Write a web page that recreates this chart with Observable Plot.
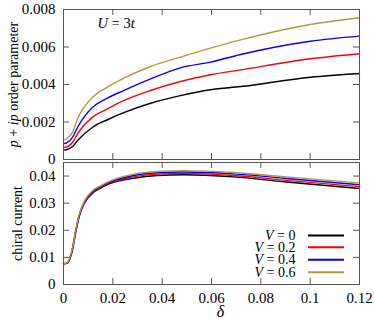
<!DOCTYPE html>
<html><head><meta charset="utf-8">
<script src="https://cdn.jsdelivr.net/npm/d3@7"></script>
<script src="https://cdn.jsdelivr.net/npm/@observablehq/plot@0.6"></script>
<style>
body{margin:0;background:#fff;}
#chart svg{display:block;}
#chart svg, #chart svg text, #chart svg tspan{font-family:"Liberation Serif","Times New Roman",Times,"DejaVu Serif",serif !important;}
</style>
</head><body><div id="chart"></div>
<script>
// ---------- data ----------
const seriesNames = ["V = 0", "V = 0.2", "V = 0.4", "V = 0.6"];
const seriesColors = ["#000000", "#ff0000", "#0000ff", "#b8963e"];

// top panel: p+ip order parameter vs delta
const deltaTop = [0.0004, 0.0012, 0.0037, 0.0057, 0.0118, 0.0178, 0.0239, 0.0353, 0.0474, 0.0596, 0.0718, 0.1001, 0.12];
const pip_V0  = [0.00050, 0.00052, 0.00069, 0.00101, 0.00172, 0.00212, 0.00247, 0.00300, 0.00341, 0.00372, 0.00389, 0.00439, 0.00459];
const pip_V02 = [0.00066, 0.00067, 0.00092, 0.00137, 0.00226, 0.00270, 0.00311, 0.00368, 0.00416, 0.00452, 0.00478, 0.00537, 0.00564];
const pip_V04 = [0.00085, 0.00088, 0.00119, 0.00172, 0.00279, 0.00327, 0.00365, 0.00430, 0.00489, 0.00519, 0.00560, 0.00631, 0.00658];
const pip_V06 = [0.00105, 0.00110, 0.00146, 0.00217, 0.00332, 0.00386, 0.00430, 0.00496, 0.00546, 0.00594, 0.00638, 0.00720, 0.00756];

// bottom panel: chiral current vs delta
const deltaBot = [0, 0.0015, 0.0035, 0.0049, 0.0062, 0.0082, 0.0123, 0.015, 0.0177, 0.0285, 0.038, 0.0488, 0.069, 0.0893, 0.12];
const cc_V0  = [0.0076, 0.0078, 0.0122, 0.0190, 0.0245, 0.0295, 0.0340, 0.0355, 0.0368, 0.0392, 0.0402, 0.0405, 0.0397, 0.0379, 0.0354];
const cc_V02 = [0.0076, 0.0079, 0.0125, 0.0193, 0.0248, 0.0297, 0.0343, 0.0358, 0.0371, 0.0397, 0.0407, 0.0410, 0.0402, 0.0385, 0.0361];
const cc_V04 = [0.0077, 0.0080, 0.0127, 0.0195, 0.0250, 0.0300, 0.0347, 0.0361, 0.0374, 0.0402, 0.0412, 0.0415, 0.0408, 0.0392, 0.0368];
const cc_V06 = [0.0077, 0.0081, 0.0130, 0.0198, 0.0253, 0.0302, 0.0350, 0.0364, 0.0377, 0.0407, 0.0417, 0.0420, 0.0413, 0.0398, 0.0375];

const xTicks = [0, 0.02, 0.04, 0.06, 0.08, 0.1, 0.12];
const yTicksTop = [0, 0.002, 0.004, 0.006, 0.008];
const yTicksBot = [0, 0.01, 0.02, 0.03, 0.04];

const topLabel = "p + ip order parameter";
const botLabel = "chiral current";
const xLabel = "δ";
const annotation = "U = 3t";

// ---------- layout ----------
const W = 374, ML = 63, MR = 15;
const frameColor = "#555";
const font = "Liberation Serif, Times New Roman, Times, DejaVu Serif, serif";

function tidy(xs, cols) {
  const rows = [];
  cols.forEach((vals, k) => vals.forEach((v, i) => rows.push({x: xs[i], y: v, s: seriesNames[k]})));
  return rows;
}

function panel({height, marginTop, marginBottom, yDomain, yTicks, data, showX, extra}) {
  const H = height - marginTop - marginBottom;
  const IW = W - ML - MR;
  return Plot.plot({
    width: W, height, marginTop, marginBottom, marginLeft: ML, marginRight: MR,
    style: {"background": "transparent", "overflow": "visible"},
    x: {domain: [0, 0.12], axis: null},
    y: {domain: yDomain, axis: null},
    color: {domain: seriesNames, range: seriesColors},
    marks: [
      Plot.line(data, {x: "x", y: "y", z: "s", stroke: "s", strokeWidth: 1.4, curve: "monotone-x"}),
      Plot.frame({stroke: frameColor, strokeWidth: 1}),
      Plot.tickX(xTicks, {x: d => d, insetTop: H - 6, stroke: frameColor}),
      Plot.tickX(xTicks, {x: d => d, insetBottom: H - 6, stroke: frameColor}),
      Plot.tickY(yTicks, {y: d => d, insetRight: IW - 6, stroke: frameColor}),
      Plot.tickY(yTicks, {y: d => d, insetLeft: IW - 6, stroke: frameColor}),
      Plot.axisY({ticks: yTicks, tickSize: 0, tickPadding: 8, tickFormat: d => String(d), label: null, fontSize: 15, fontFamily: font}),
      showX ? Plot.axisX({ticks: xTicks, tickSize: 0, tickPadding: 8, tickFormat: d => String(d), label: null, fontSize: 15, fontFamily: font}) : null,
      ...extra
    ]
  });
}

const topSvg = panel({
  height: 160, marginTop: 9, marginBottom: 1,
  yDomain: [0, 0.008], yTicks: yTicksTop,
  data: tidy(deltaTop, [pip_V0, pip_V02, pip_V04, pip_V06]),
  showX: false,
  extra: [
    Plot.text([topLabel], {text: d => d, frameAnchor: "left", textAnchor: "middle", lineAnchor: "middle", rotate: -90, dx: -50, fontSize: 14, fontFamily: font}),
    Plot.text([annotation], {text: d => d, frameAnchor: "top-left", textAnchor: "start", lineAnchor: "middle", dx: 34, dy: 13.5, fontSize: 14.5, fontFamily: font})
  ]
});

const legendDy = [-49, -37.3, -24.7, -12.3];
const legendMarks = [];
seriesNames.forEach((name, i) => {
  legendMarks.push(Plot.text([name], {text: d => d, frameAnchor: "bottom-right", textAnchor: "end", lineAnchor: "middle", dx: -64, dy: legendDy[i], fontSize: 14, fontFamily: font}));
  legendMarks.push(Plot.tickY([0], {y: d => d, insetLeft: 245, insetRight: 15, dy: legendDy[i], stroke: seriesColors[i], strokeWidth: 2}));
});

const botSvg = panel({
  height: 159, marginTop: 2, marginBottom: 35,
  yDomain: [0, 0.045], yTicks: yTicksBot,
  data: tidy(deltaBot, [cc_V0, cc_V02, cc_V04, cc_V06]),
  showX: true,
  extra: [
    Plot.text([botLabel], {text: d => d, frameAnchor: "left", textAnchor: "middle", lineAnchor: "middle", rotate: -90, dx: -46, fontSize: 14, fontFamily: font}),
    Plot.text([xLabel], {text: d => d, frameAnchor: "bottom", textAnchor: "middle", lineAnchor: "middle", dx: 9, dy: 27, fontSize: 16, fontStyle: "italic", fontFamily: font}),
    ...legendMarks
  ]
});

const root = document.getElementById("chart");
root.appendChild(topSvg);
root.appendChild(botSvg);

// italic math letters
const rich = {
  "p + ip order parameter": [["p", 1], [" + ", 0], ["ip", 1], [" order parameter", 0]],
  "U = 3t": [["U", 1], [" = 3", 0], ["t", 1]]
};
d3.selectAll("#chart svg text").each(function() {
  if (this.children.length) return;
  const t = this.textContent;
  let parts = rich[t];
  if (!parts && /^V = /.test(t)) parts = [["V", 1], [t.slice(1), 0]];
  if (!parts) return;
  const sel = d3.select(this);
  sel.text(null);
  parts.forEach(([s, it]) => sel.append("tspan").attr("font-style", it ? "italic" : null).text(s));
});
</script></body></html>
